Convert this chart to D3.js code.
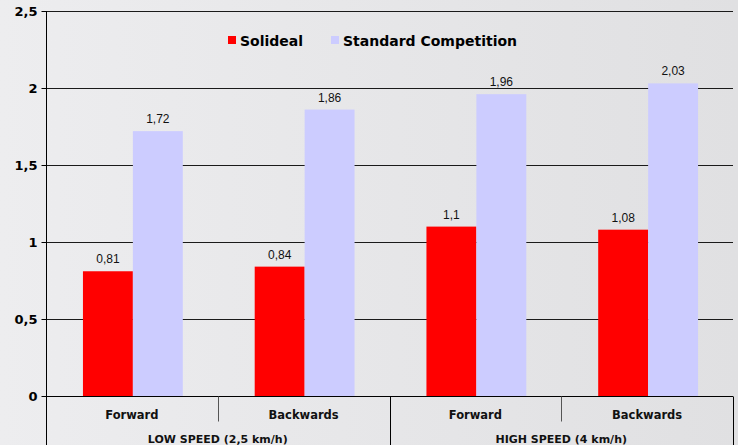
<!DOCTYPE html>
<html>
<head>
<meta charset="utf-8">
<script src="https://cdn.jsdelivr.net/npm/d3@7"></script>
<style>
  body { margin: 0; background: #e6e6e8; }
  svg { display: block; }
</style>
</head>
<body>
<div id="container"></div>
<script>
/* CONSTANTS AND GLOBALS */
const width = 738,
  height = 445,
  margin = { top: 11, bottom: 49, left: 46, right: 5 };

// DATA
const categories = ["Forward", "Backwards", "Forward ", "Backwards "];
const categoryLabels = ["Forward", "Backwards", "Forward", "Backwards"];
const groups = ["LOW SPEED (2,5 km/h)", "HIGH SPEED (4 km/h)"];
const series = ["Solideal", "Standard Competition"];
const solideal = [0.81, 0.84, 1.1, 1.08];
const competition = [1.72, 1.86, 1.96, 2.03];
const yTicks = [0, 0.5, 1, 1.5, 2, 2.5];

const colors = ["#ff0000", "#ccccff"];
const fmt = v => String(v).replace(".", ",");

const svg = d3.select("#container")
  .append("svg")
  .attr("width", width)
  .attr("height", height);

// background gradient
const defs = svg.append("defs");
const grad = defs.append("linearGradient")
  .attr("id", "bg")
  .attr("x1", "0%").attr("x2", "100%").attr("y1", "0%").attr("y2", "0%");
grad.append("stop").attr("offset", "0%").attr("stop-color", "#ededef");
grad.append("stop").attr("offset", "100%").attr("stop-color", "#e0e0e2");
svg.append("rect")
  .attr("width", width)
  .attr("height", height)
  .attr("fill", "url(#bg)");

// SCALES
const x0 = d3.scaleBand()
  .domain(categories)
  .range([margin.left, width - margin.right])
  .paddingInner(0)
  .paddingOuter(0);

const x1 = d3.scaleBand()
  .domain(series)
  .range([0, x0.bandwidth()])
  .paddingInner(0)
  .paddingOuter(0.72);

const y = d3.scaleLinear()
  .domain([0, 2.5])
  .range([height - margin.bottom, margin.top]);

// GRIDLINES
svg.append("g")
  .selectAll("line")
  .data(yTicks.filter(d => d > 0))
  .join("line")
  .attr("x1", margin.left)
  .attr("x2", width - margin.right)
  .attr("y1", d => Math.round(y(d)) + 0.5)
  .attr("y2", d => Math.round(y(d)) + 0.5)
  .attr("stroke", "#1a1a1a")
  .attr("stroke-width", 1);

// BARS
const rows = categories.map((c, i) => ({ cat: c, vals: [solideal[i], competition[i]] }));

const barGroups = svg.selectAll("g.cat")
  .data(rows)
  .join("g")
  .attr("class", "cat")
  .attr("transform", d => `translate(${x0(d.cat) + 1},0)`);

barGroups.selectAll("rect")
  .data(d => d.vals.map((v, j) => ({ key: series[j], value: v, idx: j })))
  .join("rect")
  .attr("x", d => x1(d.key))
  .attr("width", x1.bandwidth())
  .attr("y", d => y(d.value))
  .attr("height", d => y(0) - y(d.value))
  .attr("fill", d => colors[d.idx]);

barGroups.selectAll("text")
  .data(d => d.vals.map((v, j) => ({ key: series[j], value: v })))
  .join("text")
  .attr("x", d => x1(d.key) + x1.bandwidth() / 2)
  .attr("y", d => y(d.value) - 8)
  .attr("text-anchor", "middle")
  .style("font-family", "Liberation Sans, Arial, sans-serif")
  .style("font-size", "12px")
  .style("fill", "#111")
  .text(d => fmt(d.value));

// Y AXIS
const yAxis = d3.axisLeft(y)
  .tickValues(yTicks)
  .tickSize(5)
  .tickFormat(fmt);

const yG = svg.append("g")
  .attr("transform", `translate(${margin.left + 0.5},0)`)
  .call(yAxis);
yG.select(".domain").attr("stroke", "#000").attr("d", `M0,${y(2.5)}V${height}`);
yG.selectAll(".tick line").attr("stroke", "#000");
yG.selectAll(".tick text")
  .attr("x", -9)
  .style("font-family", "DejaVu Sans, Verdana, sans-serif")
  .style("font-weight", "bold")
  .style("font-size", "13px")
  .style("fill", "#000");

// X AXIS (two level)
const y0 = Math.round(y(0)) + 0.5;
svg.append("line")
  .attr("x1", margin.left)
  .attr("x2", width - margin.right)
  .attr("y1", y0)
  .attr("y2", y0)
  .attr("stroke", "#000");

const xEdges = categories.map(c => x0(c)).concat([x0(categories[3]) + x0.bandwidth()]);
svg.append("g")
  .selectAll("line")
  .data(xEdges)
  .join("line")
  .attr("x1", d => Math.round(d) + 0.5)
  .attr("x2", d => Math.round(d) + 0.5)
  .attr("y1", y0)
  .attr("y2", (d, i) => (i % 2 === 1 ? y0 + 25 : height))
  .attr("stroke", (d, i) => (i % 2 === 1 ? "#555" : "#000"));

svg.append("g")
  .selectAll("text")
  .data(categories)
  .join("text")
  .attr("x", d => x0(d) + x0.bandwidth() / 2)
  .attr("y", y0 + 22)
  .attr("text-anchor", "middle")
  .style("font-family", "DejaVu Sans, Verdana, sans-serif")
  .style("font-weight", "bold")
  .style("font-size", "11.5px")
  .style("fill", "#111")
  .text((d, i) => categoryLabels[i]);

svg.append("g")
  .selectAll("text")
  .data(groups)
  .join("text")
  .attr("x", (d, i) => x0(categories[i * 2]) + x0.bandwidth())
  .attr("y", y0 + 46)
  .attr("text-anchor", "middle")
  .style("font-family", "DejaVu Sans, Verdana, sans-serif")
  .style("font-weight", "bold")
  .style("font-size", "11px")
  .style("fill", "#111")
  .text(d => d);

// LEGEND
const legendX = [228, 331];
const legend = svg.append("g");
const items = legend.selectAll("g")
  .data(series)
  .join("g")
  .attr("transform", (d, i) => `translate(${legendX[i]},36)`);
items.append("rect")
  .attr("width", 8)
  .attr("height", 8)
  .attr("fill", (d, i) => colors[i]);
items.append("text")
  .attr("x", 12)
  .attr("y", 9.5)
  .style("font-family", "DejaVu Sans, Verdana, sans-serif")
  .style("font-weight", "bold")
  .style("font-size", "14px")
  .style("fill", "#000")
  .text(d => d);
</script>
</body>
</html>
